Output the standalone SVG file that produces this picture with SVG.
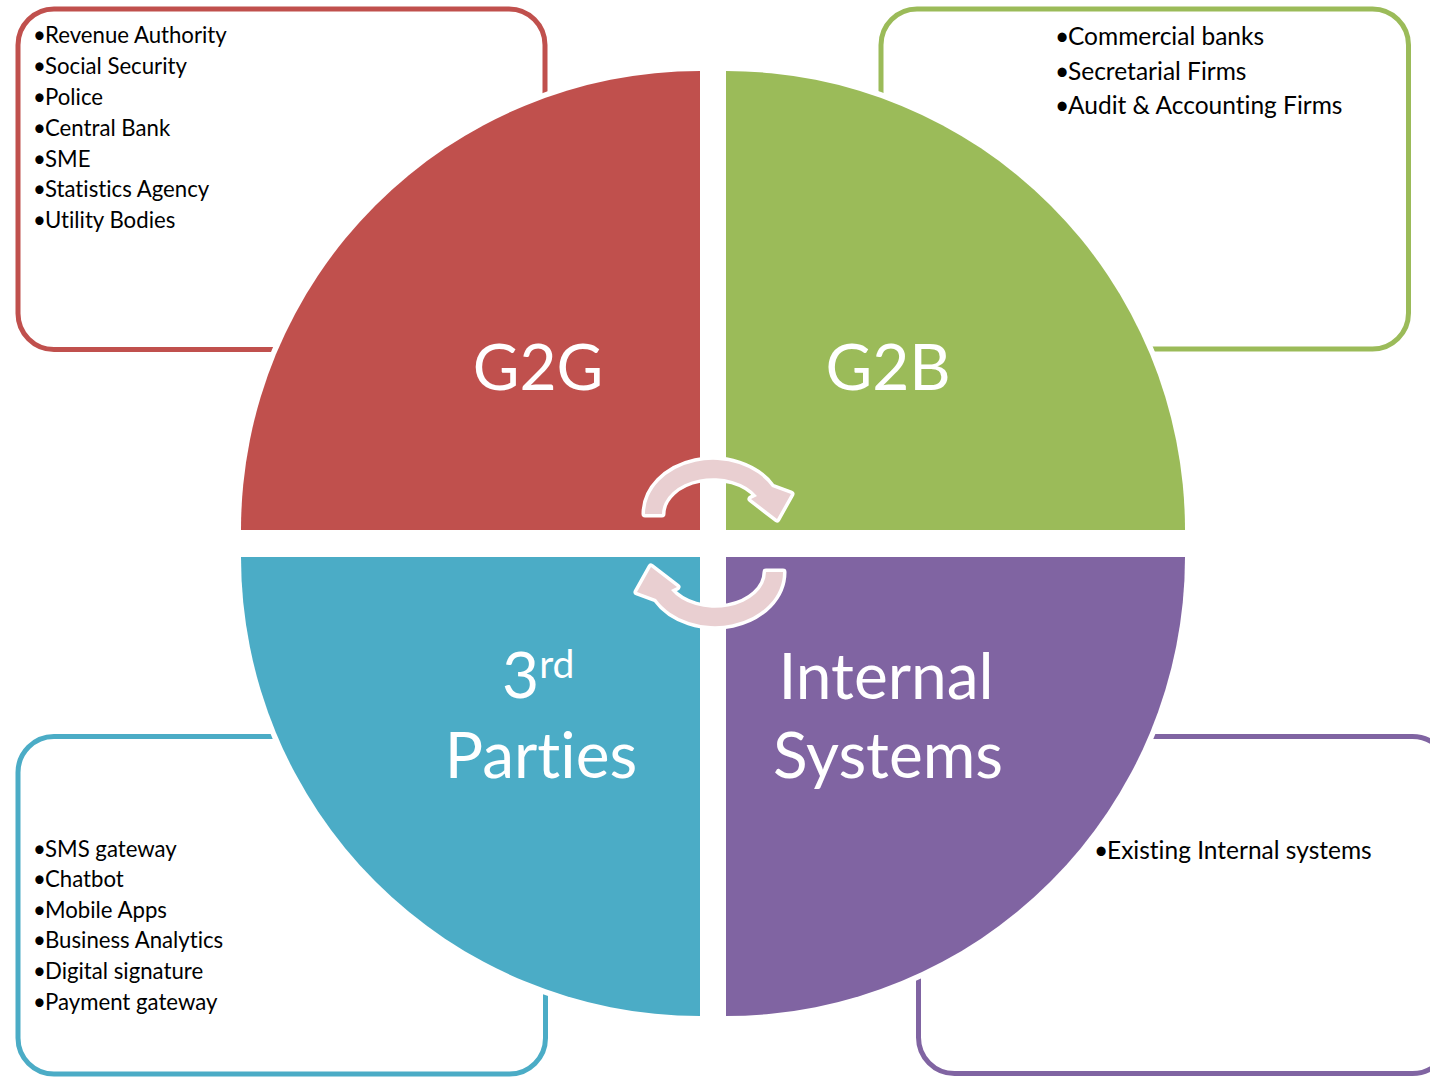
<svg xmlns="http://www.w3.org/2000/svg" xmlns:xlink="http://www.w3.org/1999/xlink" width="1430" height="1078" viewBox="0 0 1430 1078">
<style>
.box{fill:#ffffff;stroke-width:5}
.quad{stroke:#ffffff;stroke-width:11;paint-order:stroke;stroke-linejoin:miter}
.item{font-family:Lato,"Liberation Sans",sans-serif;font-size:22.2px;fill:#000000;font-variant-ligatures:none}
.item2{font-family:Lato,"Liberation Sans",sans-serif;font-size:24.5px;fill:#000000;font-variant-ligatures:none}
.big{font-family:Lato,"Liberation Sans",sans-serif;font-size:64px;fill:#ffffff;text-anchor:middle;font-variant-ligatures:none}
.arrow{fill:#e9cfd1;stroke:#ffffff;stroke-width:7;stroke-linejoin:round;paint-order:stroke}
</style>
<defs>
<path id="cyc" class="arrow" d="M 645 514 A 68 54 0 0 1 772 487 L 791 494 L 777 519 L 751 499 L 757 496 A 51 36 0 0 0 662 514 Z"/>
</defs>
<rect width="1430" height="1078" fill="#ffffff"/>
<g id="box-g2g">
<rect class="box" x="18" y="9" width="527" height="340.5" rx="36" stroke="#c0504d"/>
<text class="item" y="43"><tspan x="33">•</tspan><tspan x="45">Revenue Authority</tspan></text>
<text class="item" y="74"><tspan x="33">•</tspan><tspan x="45">Social Security</tspan></text>
<text class="item" y="105"><tspan x="33">•</tspan><tspan x="45">Police</tspan></text>
<text class="item" y="136"><tspan x="33">•</tspan><tspan x="45">Central Bank</tspan></text>
<text class="item" y="167"><tspan x="33">•</tspan><tspan x="45">SME</tspan></text>
<text class="item" y="197"><tspan x="33">•</tspan><tspan x="45">Statistics Agency</tspan></text>
<text class="item" y="228"><tspan x="33">•</tspan><tspan x="45">Utility Bodies</tspan></text>
</g>
<g id="box-g2b">
<rect class="box" x="881" y="9" width="527.5" height="340" rx="36" stroke="#9bbb59"/>
<text class="item2" y="45"><tspan x="1055">•</tspan><tspan x="1068">Commercial banks</tspan></text>
<text class="item2" y="80"><tspan x="1055">•</tspan><tspan x="1068">Secretarial Firms</tspan></text>
<text class="item2" y="114"><tspan x="1055">•</tspan><tspan x="1068">Audit &amp; Accounting Firms</tspan></text>
</g>
<g id="box-3rd">
<rect class="box" x="18" y="736.5" width="527.5" height="337.5" rx="36" stroke="#4bacc6"/>
<text class="item" y="857"><tspan x="33">•</tspan><tspan x="45">SMS gateway</tspan></text>
<text class="item" y="887"><tspan x="33">•</tspan><tspan x="45">Chatbot</tspan></text>
<text class="item" y="918"><tspan x="33">•</tspan><tspan x="45">Mobile Apps</tspan></text>
<text class="item" y="948"><tspan x="33">•</tspan><tspan x="45">Business Analytics</tspan></text>
<text class="item" y="979"><tspan x="33">•</tspan><tspan x="45">Digital signature</tspan></text>
<text class="item" y="1010"><tspan x="33">•</tspan><tspan x="45">Payment gateway</tspan></text>
</g>
<g id="box-internal">
<rect class="box" x="918.5" y="736.5" width="530" height="337" rx="36" stroke="#8064a2"/>
<text class="item2" y="859"><tspan x="1094">•</tspan><tspan x="1107">Existing Internal systems</tspan></text>
</g>
<g id="quad-g2g">
<path class="quad" fill="#c0504d" d="M 700 530 L 241 530 A 459 459 0 0 1 700 71 Z"/>
<text class="big" x="538" y="390">G2G</text>
</g>
<g id="quad-g2b">
<path class="quad" fill="#9bbb59" d="M 726 530 L 726 71 A 459 459 0 0 1 1185 530 Z"/>
<text class="big" x="888" y="390">G2B</text>
</g>
<g id="quad-3rd">
<path class="quad" fill="#4bacc6" d="M 700 557 L 700 1016 A 459 459 0 0 1 241 557 Z"/>
<text class="big" style="text-anchor:start" x="502" y="698">3<tspan font-size="39" dy="-20">rd</tspan></text>
<text class="big" x="541" y="778">Parties</text>
</g>
<g id="quad-internal">
<path class="quad" fill="#8064a2" d="M 726 557 L 1185 557 A 459 459 0 0 1 726 1016 Z"/>
<text class="big" x="886" y="699">Internal</text>
<text class="big" x="888" y="778">Systems</text>
</g>
<g id="connectors">
<use xlink:href="#cyc" href="#cyc"/>
<use xlink:href="#cyc" href="#cyc" transform="rotate(180 714 543)"/>
</g>
</svg>
